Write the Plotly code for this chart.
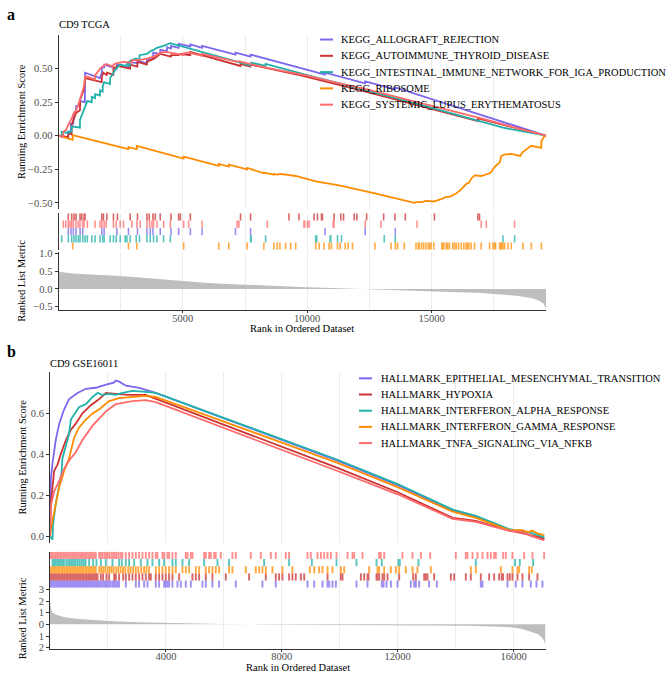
import plotly.graph_objects as go

W, H = 669, 687
FONT = "Liberation Serif"

# ---------------- Panel a : CD9 TCGA (KEGG) ----------------
a_names = ["KEGG_ALLOGRAFT_REJECTION", "KEGG_AUTOIMMUNE_THYROID_DISEASE",
           "KEGG_INTESTINAL_IMMUNE_NETWORK_FOR_IGA_PRODUCTION", "KEGG_RIBOSOME",
           "KEGG_SYSTEMIC_LUPUS_ERYTHEMATOSUS"]
a_colors = ["#7B68EE", "#CD3333", "#20B2AA", "#FF8C00", "#FF6A6A"]
a_rug_row = [2, 0, 3, 4, 1]

a_allograft_rank = [0, 390, 395, 500, 504, 597, 600, 706, 710, 867, 870, 1060, 1070, 1670, 1740, 1745, 1835, 1840,
                    2340, 2347, 2810, 2815, 3175, 3180, 3550, 3556, 3800, 3810, 4090, 4095, 4360, 4365, 4520, 4524,
                    4830, 4835, 5300, 5305, 5770, 5775, 7115, 7120, 7720, 7725, 10715, 10720, 12325, 12330, 13535,
                    13540, 19600]
a_allograft_es = [0, -0.01, 0.03, 0.02, 0.09, 0.09, 0.16, 0.19, 0.22, 0.23, 0.26, 0.25, 0.47, 0.43, 0.47, 0.51, 0.51,
                  0.53, 0.50, 0.53, 0.51, 0.55, 0.54, 0.56, 0.54, 0.57, 0.57, 0.62, 0.61, 0.64, 0.63, 0.66, 0.65,
                  0.67, 0.655, 0.685, 0.665, 0.68, 0.655, 0.67, 0.605, 0.62, 0.59, 0.605, 0.455, 0.47, 0.39, 0.405,
                  0.345, 0.36, 0.0]

a_autoimmune_rank = [0, 390, 395, 530, 532, 625, 706, 865, 870, 935, 1028, 1069, 1738, 1742, 1806, 1940, 1944, 2205,
                     2210, 2371, 2878, 2883, 3172, 3177, 3550, 3556, 3649, 3798, 3891, 4093, 4520, 4524, 4831, 4899,
                     5298, 5302, 7315, 7319, 7718, 7722, 9740, 12000, 14000, 16860, 16863, 19600]
a_autoimmune_es = [0, -0.01, 0.02, 0.01, 0.08, 0.13, 0.17, 0.19, 0.27, 0.30, 0.35, 0.43, 0.40, 0.44, 0.47, 0.45, 0.47,
                   0.455, 0.50, 0.52, 0.50, 0.53, 0.515, 0.55, 0.53, 0.55, 0.56, 0.57, 0.58, 0.61, 0.59, 0.60, 0.60,
                   0.61, 0.60, 0.625, 0.52, 0.535, 0.515, 0.53, 0.45, 0.345, 0.25, 0.11, 0.13, 0.0]

a_iga_rank = [0, 125, 129, 390, 395, 530, 532, 862, 867, 976, 1069, 1161, 1335, 1339, 1468, 1472, 1668, 1673, 1778,
              1782, 1835, 2072, 2077, 2210, 2319, 2480, 2681, 2750, 2878, 2883, 3125, 3255, 3258, 3556, 3690, 3823,
              3960, 4226, 4496, 7718, 7722, 7750, 8323, 8327, 9740, 12000, 14000, 17870, 19600]
a_iga_es = [0, -0.005, 0.03, 0.02, 0.03, 0.03, 0.07, 0.06, 0.12, 0.17, 0.22, 0.26, 0.25, 0.29, 0.28, 0.31, 0.30, 0.34,
            0.33, 0.37, 0.40, 0.385, 0.43, 0.47, 0.50, 0.53, 0.52, 0.535, 0.52, 0.56, 0.575, 0.565, 0.60, 0.61, 0.63,
            0.64, 0.655, 0.67, 0.69, 0.525, 0.54, 0.545, 0.52, 0.535, 0.465, 0.355, 0.26, 0.06, 0.0]

a_ribosome_rank = [0, 570, 573, 2810, 2815, 3150, 3153, 5028, 5032, 6440, 6444, 6843, 6847, 7585, 7589, 8255, 8258,
                   8658, 8661, 8798, 8903, 9133, 9335, 9536, 10343, 10677, 11081, 11282, 12722, 13367, 13636, 14310,
                   14375, 14600, 14780, 15087, 15410, 15584, 15719, 15853, 15988, 16189, 16297, 16391, 16499, 16592,
                   16727, 16996, 17332, 17400, 17466, 17574, 17735, 17802, 17936, 18205, 18560, 18676, 19012, 19410,
                   19415, 19550, 19600]
a_ribosome_es = [0, -0.03, 0.005, -0.10, -0.085, -0.10, -0.075, -0.17, -0.155, -0.225, -0.21, -0.23, -0.215, -0.25,
                 -0.24, -0.28, -0.275, -0.29, -0.285, -0.29, -0.285, -0.29, -0.295, -0.30, -0.34, -0.35, -0.365,
                 -0.37, -0.43, -0.46, -0.47, -0.50, -0.495, -0.495, -0.485, -0.49, -0.47, -0.455, -0.455, -0.44,
                 -0.43, -0.40, -0.38, -0.36, -0.35, -0.32, -0.295, -0.30, -0.28, -0.27, -0.25, -0.225, -0.20, -0.15,
                 -0.14, -0.135, -0.15, -0.12, -0.075, -0.09, -0.04, 0.0, 0.0]

a_sle_rank = [0, 190, 194, 290, 395, 464, 532, 597, 706, 798, 867, 976, 1028, 1069, 1161, 1468, 1472, 1673, 1742,
              1835, 1915, 2205, 2210, 2319, 2480, 2613, 2948, 2952, 3153, 3286, 3556, 3661, 3823, 3960, 4226, 4496,
              5028, 5032, 5234, 5770, 5774, 7185, 7252, 8394, 9871, 10008, 11081, 12331, 14415, 17198, 18339, 19600]
a_sle_es = [0, -0.01, 0.03, 0.04, 0.08, 0.10, 0.13, 0.16, 0.19, 0.23, 0.27, 0.33, 0.37, 0.44, 0.44, 0.42, 0.45, 0.50,
            0.51, 0.53, 0.535, 0.515, 0.53, 0.54, 0.545, 0.55, 0.545, 0.56, 0.565, 0.565, 0.575, 0.58, 0.59, 0.605,
            0.625, 0.62, 0.60, 0.615, 0.62, 0.595, 0.61, 0.55, 0.555, 0.505, 0.45, 0.448, 0.40, 0.35, 0.25, 0.12,
            0.06, 0.0]

a_hits_allograft = [395, 504, 597, 706, 867, 976, 1742, 1835, 2347, 2815, 3177, 3556, 3690, 3798, 4093, 4524, 4831,
                    5302, 5774, 7117, 7722, 10718, 12331, 13540]
a_hits_autoimmune = [395, 532, 625, 706, 867, 935, 1028, 1069, 1742, 1806, 1944, 2210, 2371, 2883, 3177, 3556, 3649,
                     3798, 3891, 4093, 4524, 4831, 4899, 5302, 7319, 7722, 9266, 9669, 10274, 10411, 10573, 10611,
                     11081, 11351, 11460, 11887, 11996, 12387, 13073, 13528, 13944, 15113, 16863, 16927]
a_hits_iga = [129, 395, 532, 625, 706, 798, 867, 976, 1069, 1161, 1339, 1472, 1673, 1782, 1835, 2077, 2210, 2319,
              2480, 2681, 2750, 2883, 3125, 3258, 3556, 3690, 3823, 3960, 4226, 4496, 7722, 7750, 8327, 10343,
              10383, 10919, 10948, 11218, 11379, 13097, 13540, 17871, 18339]
a_hits_ribosome = [573, 2815, 3153, 5032, 6444, 6847, 7589, 8258, 8661, 8798, 8903, 9133, 9335, 9536, 10343, 10477,
                   10679, 10880, 10974, 11216, 11324, 11526, 11646, 11821, 12722, 13367, 13542, 13636, 13904, 14375,
                   14469, 14509, 14603, 14684, 14778, 14872, 14913, 14980, 15087, 15410, 15450, 15490, 15584, 15652,
                   15719, 15853, 15920, 15988, 16082, 16189, 16297, 16391, 16458, 16499, 16592, 16727, 16996, 17332,
                   17466, 17533, 17574, 17735, 17775, 17802, 17842, 17869, 17936, 18071, 18205, 18676, 19012, 19415]
a_hits_sle = [194, 290, 395, 464, 532, 597, 706, 798, 867, 976, 1028, 1161, 1472, 1673, 1742, 1835, 1915, 2210, 2319,
              2480, 2613, 2952, 3153, 3286, 3556, 3661, 3758, 3823, 3960, 4226, 4496, 5032, 5234, 5774, 7185, 7252,
              8394, 9871, 9899, 10008, 10073, 11040, 11081, 12331, 12964, 14415, 16996, 17198, 18339]

a_metric_rank = [0, 100, 300, 700, 1500, 2500, 3500, 5000, 6000, 7500, 9000, 10000, 11000, 12000, 13000, 14000, 15000,
                 16000, 17000, 17500, 18000, 18500, 19000, 19300, 19500, 19600]
a_metric = [0.51, 0.48, 0.46, 0.43, 0.40, 0.37, 0.31, 0.22, 0.17, 0.12, 0.07, 0.05, 0.025, 0.0, -0.02, -0.035, -0.055,
            -0.08, -0.115, -0.145, -0.165, -0.2, -0.26, -0.33, -0.42, -0.56]

a_xticks = [5000, 10000, 15000]

# ---------------- Panel b : CD9 GSE16011 (HALLMARK) ----------------
b_names = ["HALLMARK_EPITHELIAL_MESENCHYMAL_TRANSITION", "HALLMARK_HYPOXIA",
           "HALLMARK_INTERFERON_ALPHA_RESPONSE", "HALLMARK_INTERFERON_GAMMA_RESPONSE",
           "HALLMARK_TNFA_SIGNALING_VIA_NFKB"]
b_colors = ["#7B68EE", "#CD3333", "#20B2AA", "#FF8C00", "#FF6A6A"]
b_rug_row = [4, 3, 1, 2, 0]

b_emt_rank = [0, 10, 30, 90, 200, 320, 490, 660, 950, 1240, 1580, 1930, 2200, 2270, 2390, 2620, 3080, 3650, 9900,
              12000, 13900, 14700, 15850, 16300, 16650, 17060]
b_emt_es = [0, 0.15, 0.28, 0.36, 0.47, 0.55, 0.62, 0.67, 0.70, 0.72, 0.725, 0.74, 0.75, 0.76, 0.755, 0.735, 0.725,
            0.70, 0.37, 0.25, 0.125, 0.095, 0.03, 0.02, 0.0, -0.015]
b_hypoxia_rank = [0, 15, 30, 145, 260, 370, 550, 720, 890, 1120, 1410, 1700, 1930, 2270, 2700, 3300, 9900, 12000,
                  13900, 14700, 15850, 16300, 16650, 17060]
b_hypoxia_es = [0, 0.12, 0.16, 0.32, 0.35, 0.40, 0.47, 0.52, 0.55, 0.60, 0.64, 0.67, 0.70, 0.695, 0.69, 0.69, 0.335,
                0.215, 0.09, 0.075, 0.028, 0.015, 0.005, -0.01]
b_ifna_rank = [0, 60, 90, 100, 145, 200, 320, 400, 430, 550, 660, 720, 890, 1000, 1240, 1470, 1650, 1800, 2040, 2270,
               2500, 2850, 3300, 3650, 9900, 12000, 13900, 14700, 15850, 16300, 16650, 17060]
b_ifna_es = [0, -0.01, -0.015, 0.05, 0.10, 0.16, 0.25, 0.31, 0.38, 0.45, 0.50, 0.57, 0.61, 0.63, 0.645, 0.68, 0.70,
             0.69, 0.695, 0.69, 0.70, 0.71, 0.705, 0.70, 0.375, 0.255, 0.13, 0.10, 0.035, 0.025, 0.015, -0.005]
b_ifng_rank = [0, 20, 50, 90, 200, 320, 490, 660, 830, 1000, 1240, 1470, 1700, 2040, 2390, 2850, 3310, 3650, 9900,
               12000, 13900, 14700, 15850, 16300, 16500, 16650, 16800, 17060]
b_ifng_es = [0, 0.03, 0.05, 0.08, 0.16, 0.24, 0.32, 0.38, 0.48, 0.53, 0.57, 0.60, 0.62, 0.66, 0.675, 0.68, 0.685,
             0.68, 0.36, 0.24, 0.12, 0.09, 0.03, 0.03, 0.02, 0.028, 0.015, 0.005]
b_tnfa_rank = [0, 10, 30, 145, 320, 490, 660, 890, 1120, 1470, 1930, 2270, 2850, 3310, 3650, 9900, 12000, 13900,
               14700, 15850, 16300, 16650, 17060]
b_tnfa_es = [0, 0.08, 0.15, 0.22, 0.27, 0.33, 0.37, 0.41, 0.47, 0.54, 0.61, 0.645, 0.66, 0.665, 0.655, 0.32, 0.205,
             0.085, 0.07, 0.027, 0.02, 0.0, -0.02]

b_hits_emt = [5, 40, 80, 130, 175, 220, 270, 320, 365, 410, 460, 510, 560, 610, 660, 705, 755, 800, 850, 900, 950,
              1000, 1050, 1100, 1150, 1200, 1250, 1300, 1350, 1400, 1450, 1500, 1560, 1610, 1660, 1720, 1780, 1840,
              1900, 1960, 2020, 2080, 2150, 2210, 2270, 2330, 2380, 2617, 2962, 3077, 3250, 3365, 3652, 3767, 3940,
              3997, 4055, 4112, 4227, 4400, 4515, 4687, 4860, 5262, 5377, 5607, 5837, 6412, 7332, 7792, 8888, 9118,
              9405, 9578, 9635, 9750, 9865, 10578, 10958, 11452, 11510, 11613, 11763, 11993, 12453, 12568, 12625,
              12740, 13085, 13350, 14868, 14925, 15788, 16075, 16305, 16593, 16788, 16995]
b_hits_hypoxia = [8, 62, 118, 172, 228, 282, 335, 392, 447, 503, 557, 612, 668, 722, 778, 833, 887, 942, 998, 1052,
                  1108, 1162, 1218, 1272, 1328, 1382, 1438, 1492, 1548, 1600, 1640, 1755, 1835, 1950, 2042, 2215,
                  2272, 2387, 2525, 2617, 2732, 2847, 2962, 3077, 3192, 3307, 3422, 3480, 3652, 3767, 3882, 3997,
                  4112, 4227, 4457, 4917, 5032, 5147, 5377, 5607, 6067, 6872, 7447, 7792, 7907, 8022, 8252, 8367,
                  8482, 8658, 8773, 9578, 10038, 10095, 10728, 10843, 10958, 10992, 11268, 11303, 11360, 11475,
                  11533, 11648, 12050, 12533, 12625, 12913, 12970, 13028, 13258, 13833, 13948, 14350, 14523, 14868,
                  15155, 15328, 15500, 15592, 15638, 15788, 15868, 15960, 16133, 16305, 16535, 16823]
b_hits_ifna = [90, 140, 200, 255, 310, 370, 420, 480, 560, 630, 690, 760, 830, 890, 960, 1030, 1100, 1170, 1230, 1352,
               1490, 1605, 1755, 1927, 2157, 2387, 2479, 2617, 2732, 2905, 3135, 3365, 3537, 3767, 3940, 4227, 4342,
               4572, 4802, 5320, 5780, 6182, 7390, 8252, 9037, 9888, 10578, 11268, 11452, 12027, 12073, 12717,
               14695, 16052, 16213, 16673]
b_hits_ifng = [10, 60, 115, 170, 225, 280, 330, 390, 445, 500, 555, 610, 665, 720, 775, 830, 885, 940, 995, 1050,
               1105, 1160, 1215, 1270, 1325, 1380, 1435, 1490, 1545, 1580, 1700, 1770, 1840, 1910, 1990, 2060, 2130,
               2200, 2290, 2360, 2440, 2520, 2600, 2700, 2780, 2870, 2960, 3050, 3150, 3250, 3330, 3420, 3652, 3767,
               3882, 3997, 4112, 4227, 4342, 4572, 4687, 4802, 5032, 5147, 5377, 5492, 5607, 5722, 5837, 6182, 6297,
               6757, 7102, 7217, 7332, 7447, 7677, 8022, 8367, 8968, 9118, 9290, 9405, 9578, 9750, 10038, 10153,
               11015, 11303, 11360, 11533, 11763, 11935, 12050, 12280, 12510, 12683, 13143, 14523, 14695, 15558,
               15960, 16133, 16190, 16535, 16627]
b_hits_tnfa = [5, 48, 95, 150, 198, 245, 300, 352, 398, 455, 510, 560, 615, 668, 720, 775, 830, 880, 935, 990, 1045,
               1100, 1150, 1210, 1265, 1320, 1375, 1430, 1480, 1535, 1580, 1700, 1760, 1815, 1880, 1935, 1990, 2050,
               2120, 2180, 2240, 2300, 2370, 2440, 2500, 2617, 2732, 2847, 2962, 3077, 3192, 3307, 3422, 3537, 3652,
               3710, 3882, 3940, 4055, 4112, 4227, 4342, 4687, 4745, 4860, 4917, 5320, 5377, 5492, 5550, 5665, 5722,
               5895, 6297, 6412, 6930, 7275, 7620, 7792, 8137, 8252, 8888, 9003, 9233, 9348, 9463, 9578, 9693, 9888,
               10268, 10440, 10498, 10785, 11360, 11418, 11533, 12165, 12510, 12798, 13120, 14005, 14350, 14408,
               14580, 14753, 14925, 15098, 15213, 15328, 15385, 15638, 15730, 15960, 16363, 16650, 17053]

b_metric_rank = [0, 20, 50, 90, 200, 350, 550, 900, 1300, 2000, 3000, 4000, 5000, 6000, 7000, 9000, 11000, 13000,
                 14500, 15500, 15900, 16300, 16650, 16850, 17000, 17060, 17100]
b_metric = [2.0, 1.5, 1.2, 1.0, 0.85, 0.72, 0.6, 0.48, 0.4, 0.29, 0.19, 0.12, 0.07, 0.03, 0.0, -0.02, -0.04, -0.07,
            -0.12, -0.2, -0.25, -0.4, -0.65, -0.85, -1.2, -1.5, -1.85]

b_xticks = [4000, 8000, 12000, 16000]
b_metric_ticks = [-2, -1, 0, 1, 2, 3]
b_metric_ticktext = ["2", "1", "0", "1", "2", "3"]

a_es = [(a_allograft_rank, a_allograft_es), (a_autoimmune_rank, a_autoimmune_es), (a_iga_rank, a_iga_es),
        (a_ribosome_rank, a_ribosome_es), (a_sle_rank, a_sle_es)]
a_hits = [a_hits_allograft, a_hits_autoimmune, a_hits_iga, a_hits_ribosome, a_hits_sle]
b_es = [(b_emt_rank, b_emt_es), (b_hypoxia_rank, b_hypoxia_es), (b_ifna_rank, b_ifna_es),
        (b_ifng_rank, b_ifng_es), (b_tnfa_rank, b_tnfa_es)]
b_hits = [b_hits_emt, b_hits_hypoxia, b_hits_ifna, b_hits_ifng, b_hits_tnfa]

# ---------------- figure ----------------
fig = go.Figure()


def rug_xy(hits, row):
    xs, ys = [], []
    for h in hits:
        xs += [h, h, None]
        ys += [4 - row, 5 - row, None]
    return xs, ys


def add_panel(names, colors, es, hits, rows, mrank, mval, ax, tickw):
    xe, ye = ("x" if ax == 1 else "x%d" % ax), ("y" if ax == 1 else "y%d" % ax)
    xr, yr = "x%d" % (ax + 1), "y%d" % (ax + 1)
    xm, ym = "x%d" % (ax + 2), "y%d" % (ax + 2)
    for n, c, (r, s) in zip(names, colors, es):
        fig.add_trace(go.Scatter(x=r, y=s, mode="lines", name=n, line=dict(color=c, width=1.8),
                                 xaxis=xe, yaxis=ye, showlegend=False))
    for n, c, h, row in zip(names, colors, hits, rows):
        xs, ys = rug_xy(h, row)
        fig.add_trace(go.Scatter(x=xs, y=ys, mode="lines", line=dict(color=c, width=tickw), opacity=0.75,
                                 showlegend=False, hoverinfo="skip", xaxis=xr, yaxis=yr))
    fig.add_trace(go.Scatter(x=mrank, y=mval, mode="lines", fill="tozeroy", fillcolor="#BEBEBE",
                             line=dict(color="#BEBEBE", width=0), showlegend=False, xaxis=xm, yaxis=ym))


add_panel(a_names, a_colors, a_es, a_hits, a_rug_row, a_metric_rank, a_metric, 1, 1.6)
add_panel(b_names, b_colors, b_es, b_hits, b_rug_row, b_metric_rank, b_metric, 4, 1.9)


def dom_y(top, bottom):
    return [1 - bottom / H, 1 - top / H]


def dom_x(l, r):
    return [l / W, r / W]


TICKFONT = dict(family=FONT, size=10.5, color="#4D4D4D")


def xaxis(dom, rng, tickvals, minor, labels, anchor):
    d = dict(domain=dom, range=rng, anchor=anchor, zeroline=False, tickmode="array", tickvals=tickvals,
             showgrid=True, gridcolor="#EBEBEB", gridwidth=1,
             minor=dict(tickmode="linear", dtick=minor, tick0=0, showgrid=True, gridcolor="#EBEBEB", gridwidth=1))
    if labels:
        d.update(showline=True, linecolor="#333333", linewidth=1, ticks="outside", ticklen=2,
                 tickcolor="#333333", tickfont=TICKFONT, tickformat="d", ticklabelstandoff=-4)
    else:
        d.update(showline=False, showticklabels=False, ticks="")
    return d


def yaxis(dom, rng, anchor, **kw):
    d = dict(domain=dom, range=rng, anchor=anchor, zeroline=False, showgrid=False, showline=True,
             linecolor="#333333", linewidth=1, ticks="outside", ticklen=3, tickcolor="#333333",
             tickfont=TICKFONT)
    d.update(kw)
    return d


AX = dom_x(58.5, 546)
BX = dom_x(50, 545.5)

fig.update_layout(
    width=W, height=H, margin=dict(l=0, r=0, t=0, b=0),
    paper_bgcolor="white", plot_bgcolor="white",
    font=dict(family=FONT, size=10.5, color="black"),
    showlegend=False,
    xaxis=xaxis(AX, [1, 19600], a_xticks, 2500, False, "y"),
    xaxis2=xaxis(AX, [1, 19600], a_xticks, 2500, False, "y2"),
    xaxis3=xaxis(AX, [1, 19600], a_xticks, 2500, True, "y3"),
    yaxis=yaxis(dom_y(31.5, 207.6), [-0.545, 0.75], "x", tickvals=[-0.5, -0.25, 0, 0.25, 0.5], tickformat=".2f"),
    yaxis2=yaxis(dom_y(212, 249), [0, 5], "x2", ticks="", showticklabels=False),
    yaxis3=yaxis(dom_y(251, 310), [-0.6, 1.06], "x3", tickvals=[-0.5, 0, 0.5, 1.0], tickformat=".1f"),
    xaxis4=xaxis(BX, [1, 17100], b_xticks, 2000, False, "y4"),
    xaxis5=xaxis(BX, [1, 17100], b_xticks, 2000, False, "y5"),
    xaxis6=xaxis(BX, [1, 17100], b_xticks, 2000, True, "y6"),
    yaxis4=yaxis(dom_y(373.3, 546), [-0.032, 0.80], "x4", tickvals=[0, 0.2, 0.4, 0.6], tickformat=".1f"),
    yaxis5=yaxis(dom_y(555, 591.5), [0, 5], "x5", ticks="", showticklabels=False),
    yaxis6=yaxis(dom_y(592, 653.3), [-2.09, 3.1], "x6", tickvals=b_metric_ticks, ticktext=b_metric_ticktext),
)


def ann(text, x, y, size=10.5, angle=0, xanchor="center", bold=False):
    fig.add_annotation(text=("<b>%s</b>" % text) if bold else text, x=x / W, y=1 - y / H, xref="paper",
                       yref="paper", showarrow=False, textangle=angle, xanchor=xanchor, yanchor="middle",
                       font=dict(family=FONT, size=size, color="black"))


def legend_block(names, colors, x_line, x_text, y0, step):
    for i, (n, c) in enumerate(zip(names, colors)):
        y = y0 + i * step
        fig.add_shape(type="line", xref="paper", yref="paper", x0=x_line / W, x1=(x_line + 13) / W,
                      y0=1 - y / H, y1=1 - y / H, line=dict(color=c, width=2))
        ann(n, x_text, y, xanchor="left")


ann("a", 11, 11, size=16, bold=True)
ann("CD9 TCGA", 57, 21, xanchor="left")
ann("Running Enrichment Score", 22, 119.5, angle=-90)
ann("Ranked List Metric", 22, 280.5, angle=-90)
ann("Rank in Ordered Dataset", 302, 329)
ann("b", 11, 352, size=16, bold=True)
ann("CD9 GSE16011", 48, 364, xanchor="left")
ann("Running Enrichment Score", 22, 459.5, angle=-90)
ann("Ranked List Metric", 22, 622.5, angle=-90)
ann("Rank in Ordered Dataset", 298, 672.5)

legend_block(a_names, a_colors, 320, 339, 36, 16.5)
legend_block(b_names, b_colors, 359, 379, 379.3, 16.4)

fig.write_html("out.html", config={"displayModeBar": False},
               post_script="document.body.style.margin='0px';document.body.style.overflow='hidden';")
